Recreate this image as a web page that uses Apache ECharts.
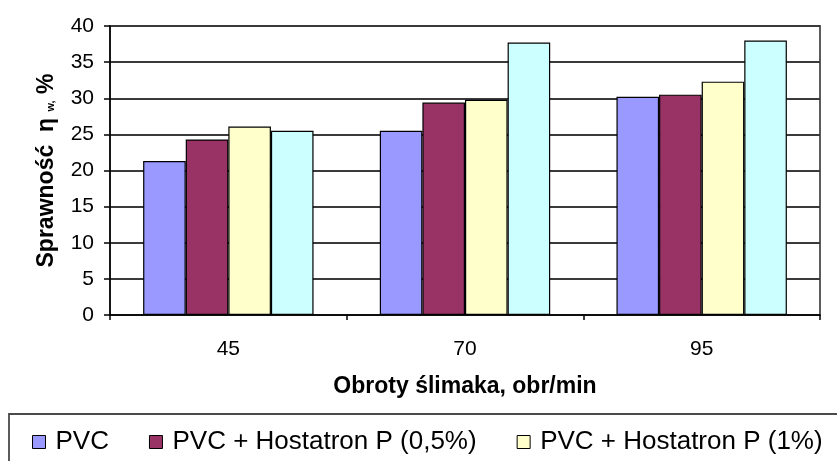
<!DOCTYPE html>
<html>
<head>
<meta charset="utf-8">
<script src="https://cdn.jsdelivr.net/npm/echarts@6/dist/echarts.min.js"></script>
<style>
  html, body { margin: 0; padding: 0; background: #fff; }
  #chart { width: 837px; height: 461px; }
</style>
</head>
<body>
<div id="chart"></div>
<script>
// Screw speed categories (obr/min)
const categories = ['45', '70', '95'];

// Efficiency values, %
const seriesNames = [
  'PVC',
  'PVC + Hostatron P (0,5%)',
  'PVC + Hostatron P (1%)',
  'PVC + Hostatron P (2%)'
];
const pvc      = [21.3, 25.5, 30.2];
const hostat05 = [24.3, 29.4, 30.5];
const hostat1  = [26.1, 29.8, 32.3];
const hostat2  = [25.5, 37.7, 38.0];
const seriesValues = [pvc, hostat05, hostat1, hostat2];

const colors = ['#9999FF', '#993366', '#FFFFCC', '#CCFFFF'];
const FONT = 'Arial, "Liberation Sans", sans-serif';

const chart = echarts.init(document.getElementById('chart'), null, { renderer: 'canvas' });

chart.setOption({
  animation: false,
  backgroundColor: '#ffffff',
  grid: {
    left: 110, right: 17, top: 26, bottom: 146,
    show: true, borderColor: '#4a4a4a', borderWidth: 1.8
  },
  legend: {
    left: 9, top: 414,
    width: 1400,
    data: seriesNames,
    icon: 'rect',
    itemWidth: 13, itemHeight: 13,
    itemGap: 40,
    padding: [15, 20, 40, 23],
    borderColor: '#4a4a4a', borderWidth: 1.8,
    itemStyle: { borderColor: '#000', borderWidth: 1 },
    textStyle: { fontFamily: FONT, fontSize: 26, color: '#000', padding: [0, 0, 0, 5] }
  },
  xAxis: {
    type: 'category',
    data: categories,
    boundaryGap: true,
    name: 'Obroty ślimaka, obr/min',
    nameLocation: 'middle',
    nameGap: 60,
    nameTextStyle: { fontFamily: FONT, fontSize: 23, fontWeight: 'bold', color: '#000' },
    axisLine: { lineStyle: { color: '#000', width: 1.5 } },
    axisTick: { show: true, inside: false, length: 5, lineStyle: { color: '#000', width: 1.5 } },
    axisLabel: { margin: 24, fontFamily: FONT, fontSize: 21, color: '#000' },
    splitLine: { show: false }
  },
  yAxis: {
    type: 'value',
    min: 0, max: 40, interval: 5,
    name: '{b|Sprawność  η} {s|w,} {b|%}',
    nameLocation: 'middle',
    nameGap: 52,
    nameRotate: 90,
    nameTextStyle: {
      fontFamily: FONT, fontSize: 23, fontWeight: 'bold', color: '#000',
      rich: {
        b: { fontFamily: FONT, fontSize: 23, fontWeight: 'bold', color: '#000' },
        s: { fontFamily: FONT, fontSize: 11, fontWeight: 'bold', color: '#000', padding: [9, 0, 0, 0] }
      }
    },
    axisLine: { show: true, lineStyle: { color: '#000', width: 1.5 } },
    axisTick: { show: true, inside: false, length: 6, lineStyle: { color: '#000', width: 1.5 } },
    axisLabel: { margin: 16, fontFamily: FONT, fontSize: 21, color: '#000' },
    splitLine: { show: true, lineStyle: { color: '#3a3a3a', width: 1.8 } }
  },
  series: seriesNames.map((name, i) => ({
    name: name,
    type: 'bar',
    data: seriesValues[i],
    barGap: '0%',
    barCategoryGap: '28%',
    itemStyle: { color: colors[i], borderColor: '#000', borderWidth: 1.2 }
  }))
});
</script>
</body>
</html>
